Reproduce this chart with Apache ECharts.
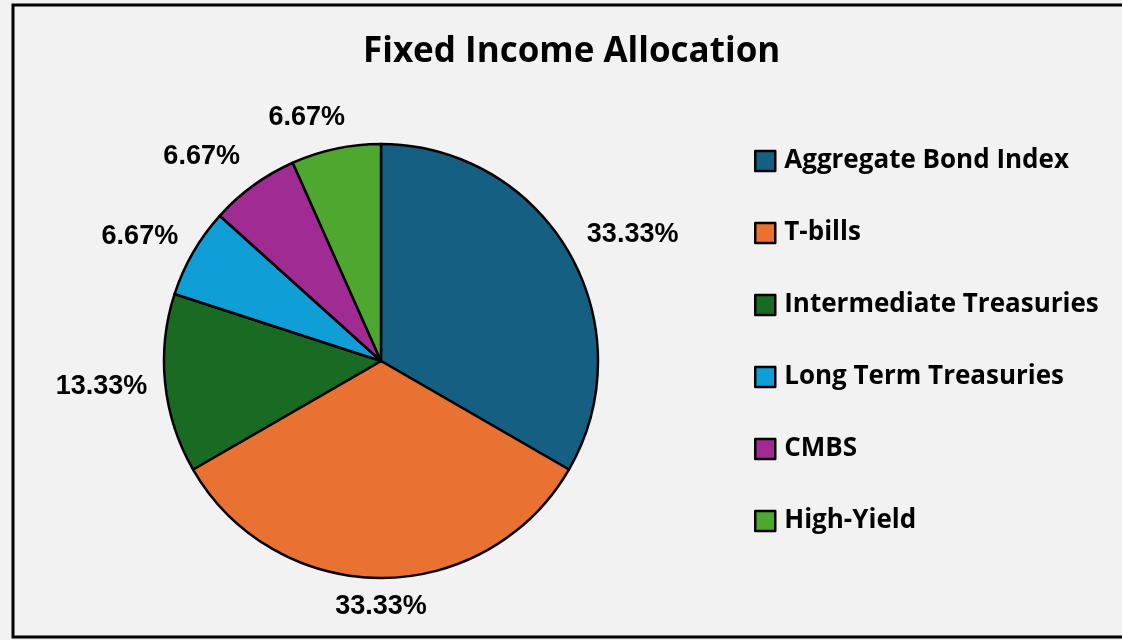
<!DOCTYPE html>
<html>
<head>
<meta charset="utf-8">
<script src="https://cdn.jsdelivr.net/npm/echarts@6/dist/echarts.min.js"></script>
<style>
  html, body { margin: 0; padding: 0; background: #f2f2f2; }
  #chart { width: 1122px; height: 640px; }
</style>
</head>
<body>
<div id="chart"></div>
<script>
  // allocation units (out of 15)
  var categories = ['Aggregate Bond Index', 'T-bills', 'Intermediate Treasuries', 'Long Term Treasuries', 'CMBS', 'High-Yield'];
  var weights = [5, 5, 2, 1, 1, 1];
  var colors = ['#156082', '#E97132', '#196B24', '#0F9ED5', '#A02B93', '#4EA72E'];

  var chart = echarts.init(document.getElementById('chart'));

  var pieData = categories.map(function (name, i) {
    return { name: name, value: weights[i], itemStyle: { color: colors[i] } };
  });

  // small nudges so the labels sit where excel put them
  var nudge = [[-7, -6], [-5, 6], [10, 0], [10, -4], [5, -10], [19, -9]];

  chart.setOption({
    backgroundColor: '#f2f2f2',
    graphic: [{
      type: 'rect',
      shape: { x: 13, y: 5, width: 1130, height: 632 },
      style: { fill: 'none', stroke: '#000', lineWidth: 3 },
      silent: true
    }],
    title: {
      text: 'Fixed Income Allocation',
      left: 358,
      top: 30,
      textStyle: { fontFamily: 'Open Sans', fontWeight: 'bold', fontSize: 35, color: '#000' }
    },
    legend: {
      orient: 'vertical',
      left: 754,
      top: 148,
      padding: 0,
      itemWidth: 20,
      itemHeight: 20,
      itemGap: 46,
      icon: 'rect',
      itemStyle: { borderColor: '#000', borderWidth: 2.5 },
      textStyle: { fontFamily: 'Open Sans', fontWeight: 'bold', fontSize: 26, color: '#000', lineHeight: 26, padding: [0, 0, 0, 4] },
      data: categories
    },
    series: [{
      type: 'pie',
      center: [381, 361],
      radius: 217,
      startAngle: 90,
      clockwise: true,
      avoidLabelOverlap: false,
      itemStyle: { borderColor: '#000', borderWidth: 2.5 },
      label: {
        show: true,
        position: 'outside',
        formatter: function (p) { return p.percent.toFixed(2) + '%'; },
        fontFamily: 'Liberation Sans',
        fontWeight: 'bold',
        fontSize: 27,
        color: '#000'
      },
      labelLine: { show: false, length: 23, length2: 0 },
      labelLayout: function (p) {
        var n = nudge[p.dataIndex];
        var out = { dx: n[0], dy: n[1] };
        if (p.dataIndex === 1) out.align = 'center';
        return out;
      },
      emphasis: { disabled: true },
      data: pieData
    }]
  });
</script>
</body>
</html>
